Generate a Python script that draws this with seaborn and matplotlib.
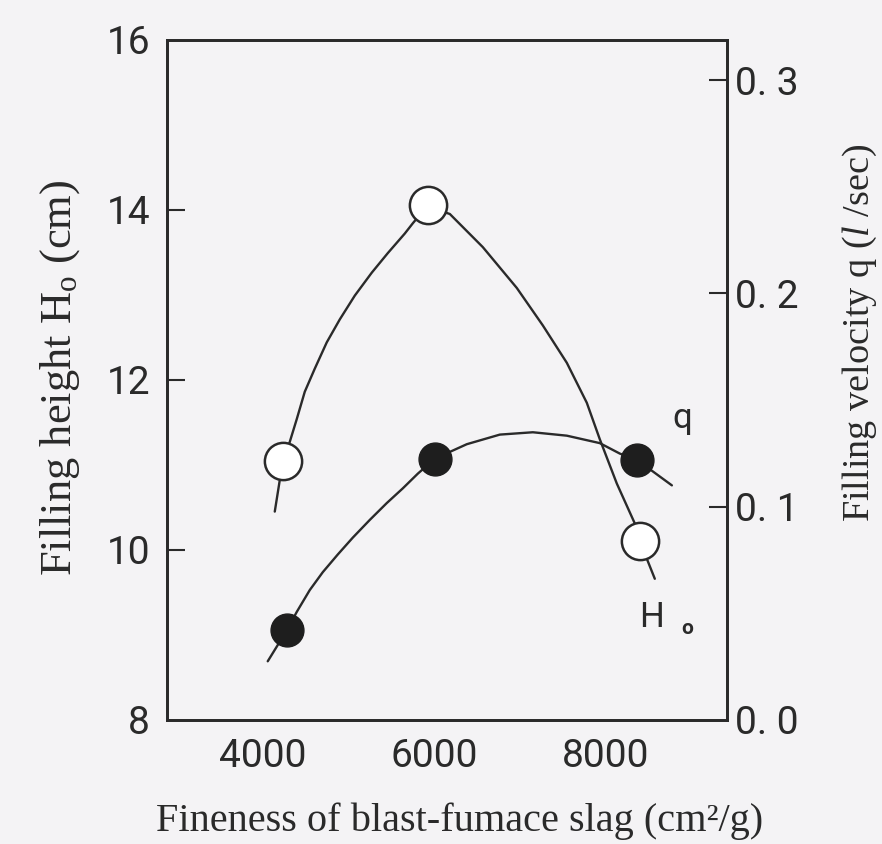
import seaborn as sns
import matplotlib.pyplot as plt

fineness_h0 = [4233, 5924, 8397]
height_h0 = [11.04, 14.05, 10.10]
fineness_q = [4280, 6006, 8362]
velocity_q = [0.042, 0.1225, 0.122]

# hand drawn trend curves
trace_h0_x = [4140, 4233, 4315, 4397, 4490, 4606, 4746, 4898, 5073, 5271, 5458,
              5656, 5749, 5913, 6181, 6566, 6962, 7265, 7545, 7778, 7930, 8128,
              8338, 8397, 8571]
trace_h0_y = [10.45, 11.04, 11.27, 11.54, 11.86, 12.13, 12.44, 12.71, 12.99, 13.26, 13.49,
              13.72, 13.84, 14.04, 13.95, 13.56, 13.08, 12.64, 12.20, 11.73, 11.30, 10.78,
              10.31, 10.10, 9.66]
trace_q_x = [4058, 4280, 4397, 4548, 4700, 4875, 5050, 5248, 5446, 5633, 5808,
             6006, 6379, 6764, 7149, 7545, 7930, 8163, 8362, 8770]
trace_q_y = [0.0275, 0.042, 0.0507, 0.0609, 0.0693, 0.0776, 0.0855, 0.0938, 0.1017, 0.1086,
             0.1155, 0.1225, 0.1293, 0.1338, 0.1349, 0.1333, 0.1298, 0.1249, 0.122, 0.110]

x_ticks = [4000, 6000, 8000]
h_ticks = [8, 10, 12, 14, 16]
q_ticks = [0.0, 0.1, 0.2, 0.3]
q_ticklabels = ["0. 0", "0. 1", "0. 2", "0. 3"]

sns.set_style("white")
plt.rcParams["font.family"] = ["Roboto", "DejaVu Sans"]
plt.rcParams["mathtext.fontset"] = "custom"
plt.rcParams["mathtext.rm"] = "Liberation Serif"
plt.rcParams["mathtext.it"] = "Liberation Serif:italic"

bg = "#f4f3f5"
ink = "#2a2a2a"

fig = plt.figure(figsize=(8.82, 8.44), dpi=100, facecolor=bg)
ax = fig.add_axes([0.189, 0.147, 0.635, 0.806])
ax.set_facecolor(bg)
ax2 = ax.twinx()

sns.lineplot(x=trace_h0_x, y=trace_h0_y, ax=ax, sort=False, estimator=None,
             color=ink, lw=1.7, zorder=2)
sns.lineplot(x=trace_q_x, y=trace_q_y, ax=ax2, sort=False, estimator=None,
             color=ink, lw=1.7, zorder=2)

sns.scatterplot(x=fineness_h0, y=height_h0, ax=ax, s=720, marker="o",
                facecolor="white", edgecolor=ink, linewidth=1.8, zorder=3)
sns.scatterplot(x=fineness_q, y=velocity_q, ax=ax2, s=560, marker="o",
                color="#1e1e1e", edgecolor="#1e1e1e", linewidth=1, zorder=3)

ax.set_xlim(2880, 9410)
ax.set_ylim(8, 16)
ax2.set_ylim(0, 0.319)

ax.set_xticks(x_ticks)
ax.set_yticks(h_ticks)
ax2.set_yticks(q_ticks)
ax2.set_yticklabels(q_ticklabels)

ax.tick_params(axis="both", direction="in", length=13, width=1.5, labelsize=28,
               colors=ink, pad=12)
ax.tick_params(axis="x", pad=13)
ax2.tick_params(axis="y", direction="in", length=13, width=1.5, labelsize=28,
                colors=ink, pad=6)
# no tick marks on the corners
for t in (ax.yaxis.get_major_ticks()[0], ax.yaxis.get_major_ticks()[-1]):
    t.tick1line.set_visible(False)
ax2.yaxis.get_major_ticks()[0].tick2line.set_visible(False)

for a in (ax, ax2):
    for s in a.spines.values():
        s.set_linewidth(2)
        s.set_color(ink)

serif = ["Liberation Serif", "DejaVu Serif"]
ax.set_xlabel("Fineness of blast-fumace slag (cm²/g)", fontsize=29,
              family=serif, color=ink, va="center")
ax.set_ylabel("Filling height H$_\\mathrm{o}$ (cm)", fontsize=32,
              family=serif, color=ink)
ax2.set_ylabel("Filling velocity q ($\\mathit{l}$ /sec)", fontsize=27.5,
               family=serif, color=ink, va="center")
ax.xaxis.set_label_coords(0.523, -0.1485)
ax.yaxis.set_label_coords(-0.152, 0.503)
ax2.yaxis.set_label_coords(1.238, 0.569)

ax.text(8890, 11.55, "q", fontsize=25, color=ink, ha="center", va="center")
ax.text(8537, 9.2, "H", fontsize=25, color=ink, ha="center", va="center")
ax.text(8945, 9.08, "o", fontsize=15, fontweight="bold", color=ink,
        ha="center", va="center")

fig.savefig("out.png", dpi=100, facecolor=bg)
